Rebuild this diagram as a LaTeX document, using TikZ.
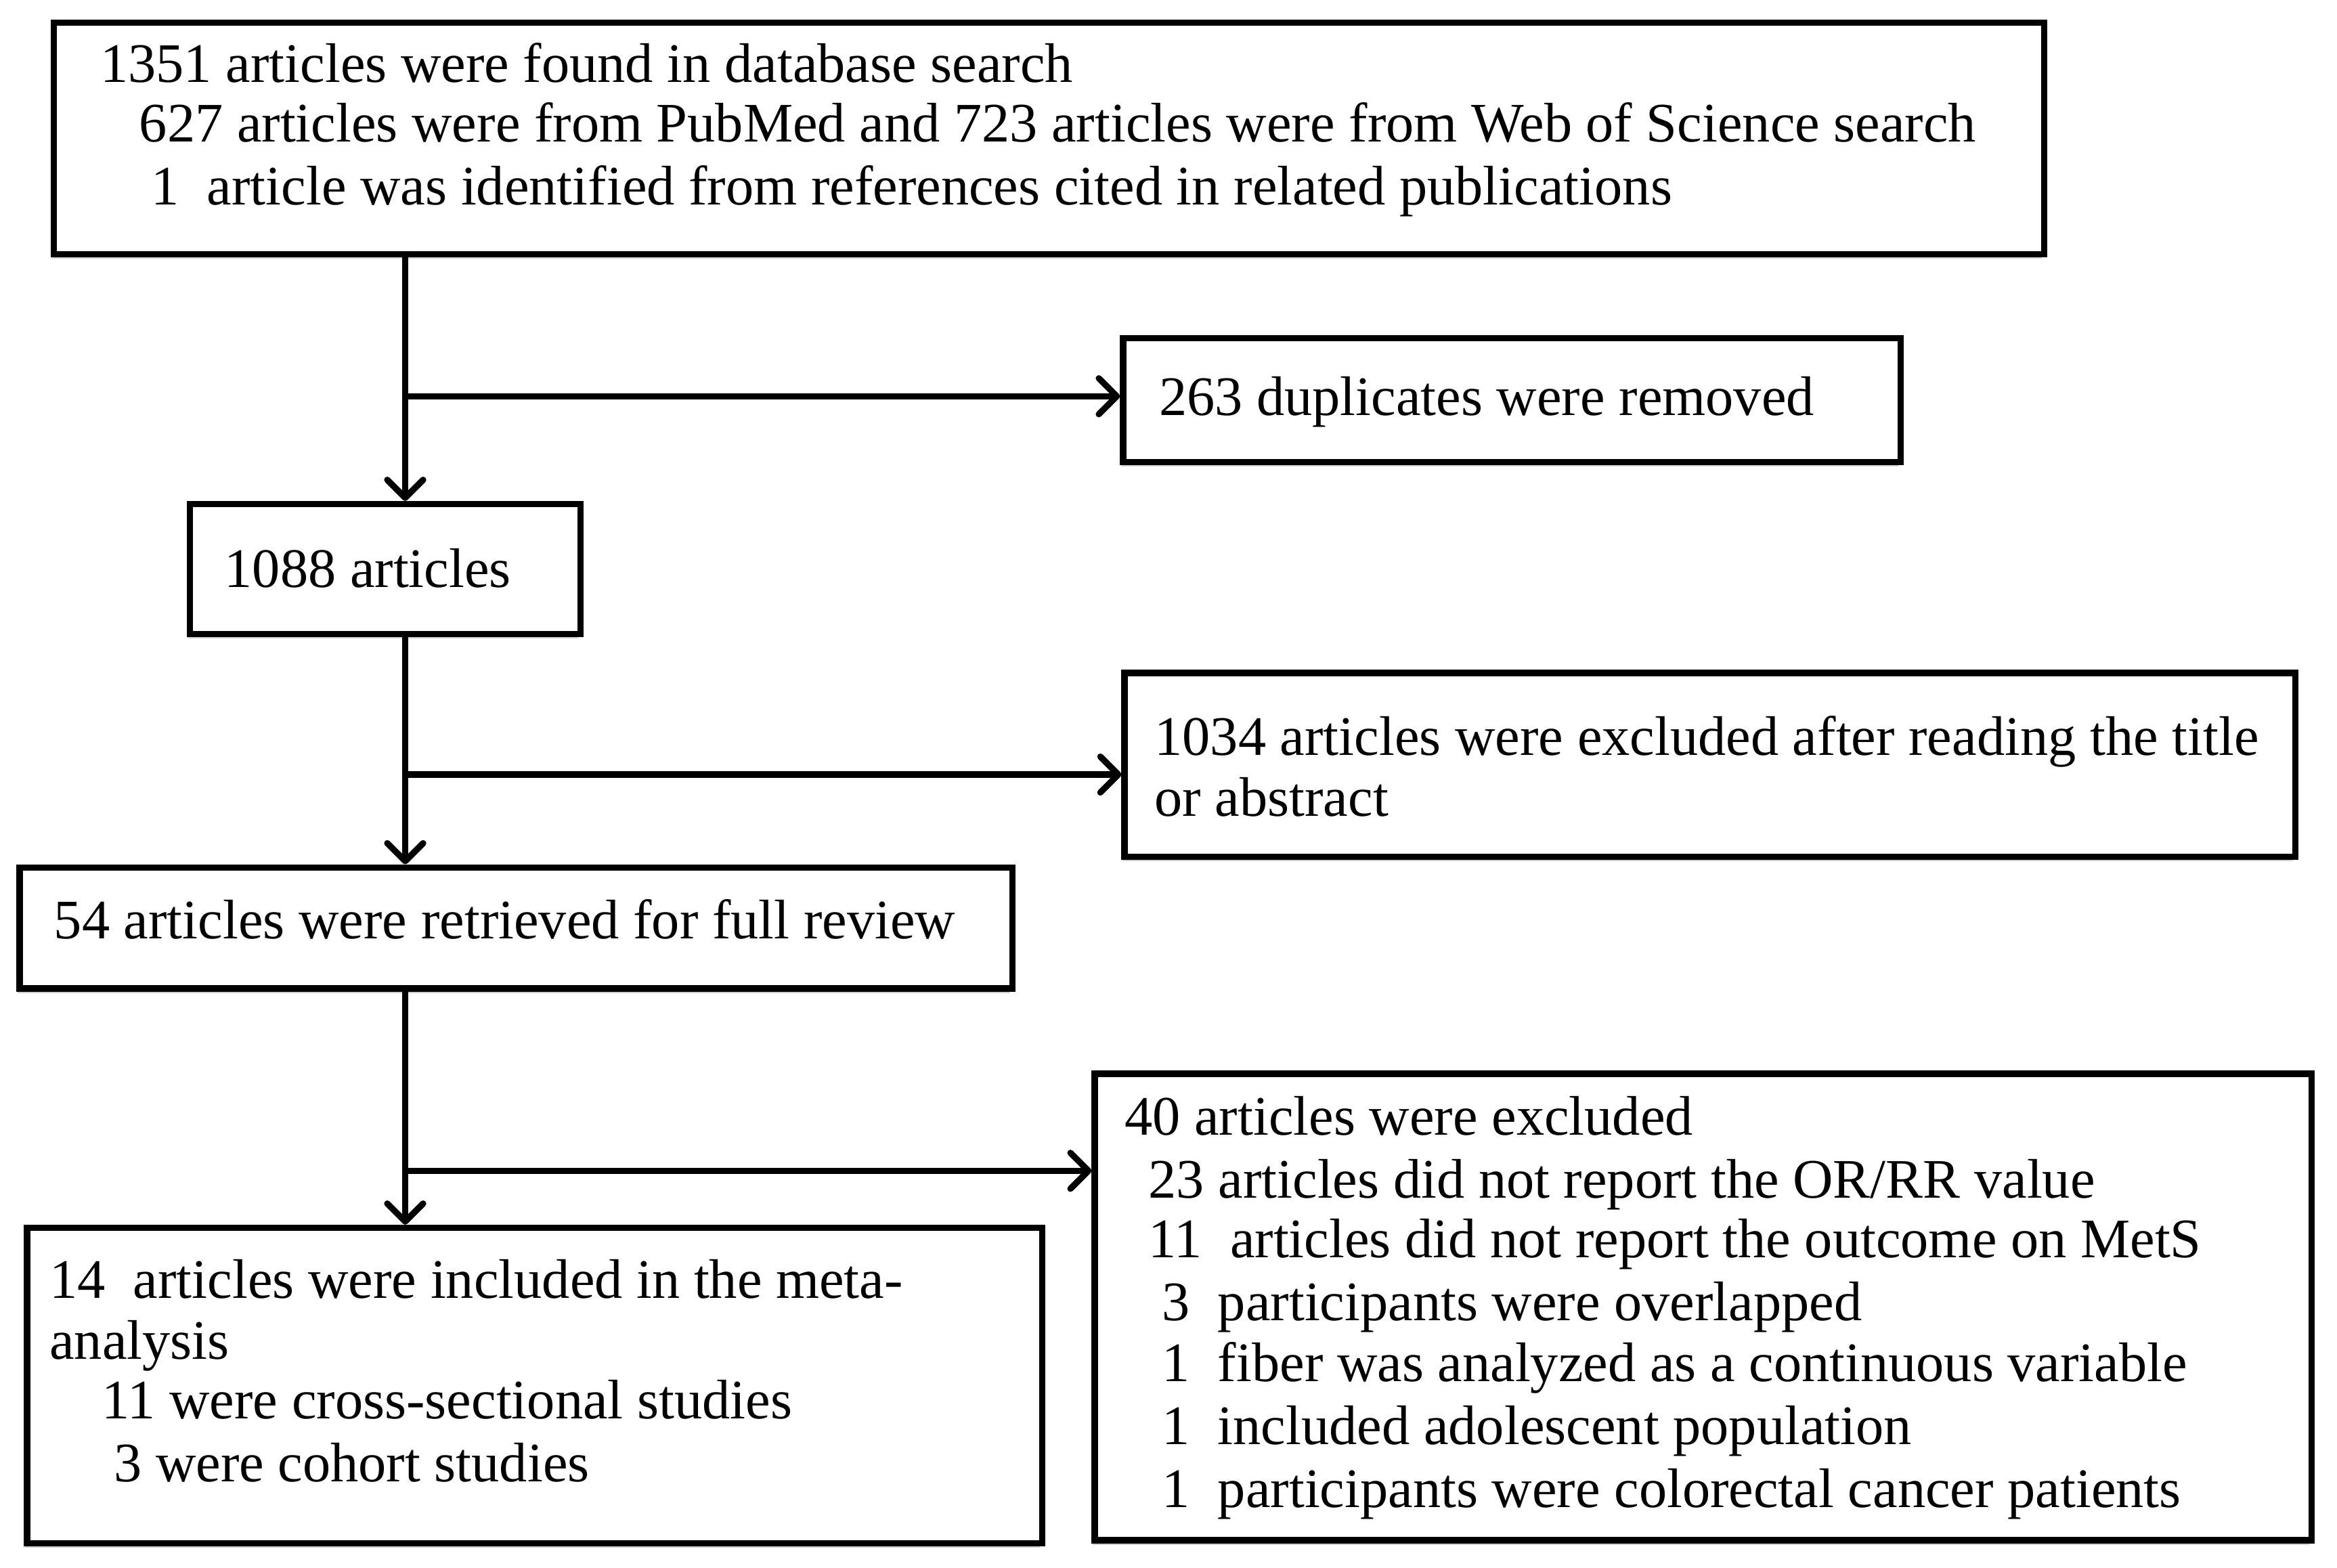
\documentclass[tikz,border=0pt]{standalone}
\usepackage{fontspec}
\setmainfont{Liberation Serif}
\usetikzlibrary{arrows.meta,shadows}
\begin{document}
\begin{tikzpicture}[x=1pt,y=-1pt,
  box/.style={draw, line width=4.2pt, fill=white, inner sep=0pt, anchor=north west,
    drop shadow={shadow xshift=-1.5pt, shadow yshift=-3pt, opacity=0.18, fill=black}},
  txt/.style={anchor=base west, inner sep=0pt, font=\fontsize{37.3}{41}\selectfont},
  flow/.style={line width=4.2pt, -{Straight Barb[length=12pt,width=24pt,round]}}]
\useasboundingbox (0,0) rectangle (1563,1048.6);
% boxes
\node[box, minimum width=1331pt, minimum height=155pt] (b1) at (34,13) {};
\node[box, minimum width=520pt, minimum height=83pt] (b2) at (749,224) {};
\node[box, minimum width=261pt, minimum height=87pt] (b3) at (125,335) {};
\node[box, minimum width=783pt, minimum height=123pt] (b4) at (750,448) {};
\node[box, minimum width=664pt, minimum height=81pt] (b5) at (11,578) {};
\node[box, minimum width=814pt, minimum height=312pt] (b6) at (730,716) {};
\node[box, minimum width=679pt, minimum height=211pt] (b7) at (16,819) {};
% texts
\node[txt] (t1a) at (67,55) {1351 articles were found in database search};
\node[txt] (t1b) at (93,95) {627 articles were from PubMed and 723 articles were from Web of Science search};
\node[txt] (t1c) at (101,137) {1\ \ article was identified from references cited in related publications};
\node[txt] (t2) at (775,278) {263 duplicates were removed};
\node[txt] (t3) at (150,393) {1088 articles};
\node[txt] (t4a) at (772,505) {1034 articles were excluded after reading the title};
\node[txt] (t4b) at (772,546) {or abstract};
\node[txt] (t5) at (36,628) {54 articles were retrieved for full review};
\node[txt] (t6a) at (752,759) {40 articles were excluded};
\node[txt] (t6b) at (768,801) {23 articles did not report the OR/RR value};
\node[txt] (t6c) at (768,841) {11\ \ articles did not report the outcome on MetS};
\node[txt] (t6d) at (777,883) {3\ \ participants were overlapped};
\node[txt] (t6e) at (777,924) {1\ \ fiber was analyzed as a continuous variable};
\node[txt] (t6f) at (777,966) {1\ \ included adolescent population};
\node[txt] (t6g) at (777,1008) {1\ \ participants were colorectal cancer patients};
\node[txt] (t7a) at (33,868) {14\ \ articles were included in the meta-};
\node[txt] (t7b) at (33,909) {analysis};
\node[txt] (t7c) at (68,949) {11 were cross-sectional studies};
\node[txt] (t7d) at (76,991) {3 were cohort studies};
% branch points
\coordinate (j1) at (271,265);
\coordinate (j2) at (271,518);
\coordinate (j3) at (271,783);
% connectors
\draw[flow] (b1.south -| j1) -- (b3.north -| j1);
\draw[flow] (j1) -- (b2.west |- j1);
\draw[flow] (b3.south -| j2) -- (b5.north -| j2);
\draw[flow] (j2) -- (b4.west |- j2);
\draw[flow] (b5.south -| j3) -- (b7.north -| j3);
\draw[flow] (j3) -- (b6.west |- j3);
\end{tikzpicture}
\end{document}
